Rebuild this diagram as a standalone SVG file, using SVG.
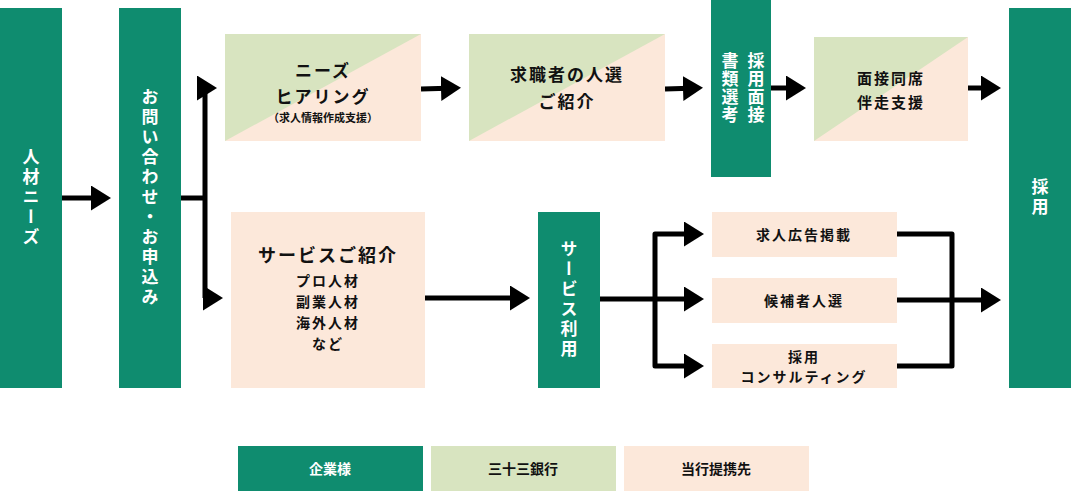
<svg xmlns="http://www.w3.org/2000/svg" width="1072" height="492" viewBox="0 0 1072 492">
<style>
.dg{fill:#0f8c6f}.lg{fill:#d8e4c0}.pc{fill:#fce8da}
text{font-family:"Noto Sans CJK JP","Noto Sans",sans-serif;font-weight:bold;text-anchor:middle}
.w{fill:#fff;font-size:17px;letter-spacing:3px}
.v{writing-mode:vertical-rl;dominant-baseline:central}
.b{fill:#111;font-size:17px;letter-spacing:2px}
.s{fill:#111;font-size:14px;letter-spacing:2px}
.xs{fill:#111;font-size:11px}
.ln{fill:none;stroke:#000;stroke-width:5;stroke-linejoin:round}
</style>
<defs>
<marker id="ah" markerWidth="5" markerHeight="5" refX="3" refY="2.5" orient="auto" markerUnits="strokeWidth"><path d="M0,0 L4,2.5 L0,5Z" fill="#000"/></marker>
</defs>
<g id="connectors">
<path class="ln" d="M62,198 H106" marker-end="url(#ah)"/>
<path class="ln" d="M181,198 H205"/>
<path class="ln" d="M205,298 V88 H212" marker-end="url(#ah)"/>
<path class="ln" d="M205,298 H218" marker-end="url(#ah)"/>
<path class="ln" d="M421,89 L456,88" marker-end="url(#ah)"/>
<path class="ln" d="M665,89 L698,88" marker-end="url(#ah)"/>
<path class="ln" d="M771,88 H801" marker-end="url(#ah)"/>
<path class="ln" d="M968,88 H996" marker-end="url(#ah)"/>
<path class="ln" d="M425,298 H525" marker-end="url(#ah)"/>
<path class="ln" d="M600,299 H699" marker-end="url(#ah)"/>
<path class="ln" d="M655,299 V234 H699" marker-end="url(#ah)"/>
<path class="ln" d="M655,299 V366 H699" marker-end="url(#ah)"/>
<path class="ln" d="M897,234 H952 V366 H897"/>
<path class="ln" d="M897,300 H996" marker-end="url(#ah)"/>
</g>
<g id="n-needs"><rect class="dg" x="0" y="8" width="62" height="380"/><text class="w v" x="31" y="198">人材ニーズ</text></g>
<g id="n-inquiry"><rect class="dg" x="119" y="8" width="62" height="380"/><text class="w v" x="150" y="198">お問い合わせ・お申込み</text></g>
<g id="n-hearing"><rect class="pc" x="225" y="34" width="196" height="107"/><path class="lg" d="M225,34 H421 L225,141Z"/>
<text class="b" x="323" y="77">ニーズ</text><text class="b" x="323" y="103">ヒアリング</text><text class="xs" x="323" y="122">（求人情報作成支援）</text></g>
<g id="n-intro"><rect class="pc" x="469" y="34" width="196" height="107"/><path class="lg" d="M469,34 H665 L469,141Z"/>
<text class="b" x="567" y="81">求職者の人選</text><text class="b" x="567" y="108">ご紹介</text></g>
<g id="n-select"><rect class="dg" x="711" y="0" width="60" height="177"/><text class="w v" x="756" y="88" style="letter-spacing:1px">採用面接</text><text class="w v" x="730" y="88" style="letter-spacing:1px">書類選考</text></g>
<g id="n-accomp"><rect class="pc" x="814" y="37" width="154" height="104"/><path class="lg" d="M814,37 H968 L814,141Z"/>
<text class="s" x="891" y="84" style="font-size:15px">面接同席</text><text class="s" x="891" y="108" style="font-size:15px">伴走支援</text></g>
<g id="n-hire"><rect class="dg" x="1009" y="8" width="62" height="380"/><text class="w v" x="1040" y="198">採用</text></g>
<g id="n-service"><rect class="pc" x="231" y="212" width="194" height="176"/>
<text class="b" x="328" y="262" style="font-size:18px">サービスご紹介</text>
<text class="s" x="328" y="286">プロ人材</text><text class="s" x="328" y="307">副業人材</text><text class="s" x="328" y="328">海外人材</text><text class="s" x="328" y="349">など</text></g>
<g id="n-use"><rect class="dg" x="538" y="212" width="62" height="176"/><text class="w v" x="569" y="300">サービス利用</text></g>
<g id="n-ad"><rect class="pc" x="712" y="212" width="185" height="45"/><text class="s" x="804" y="240">求人広告掲載</text></g>
<g id="n-cand"><rect class="pc" x="712" y="278" width="185" height="45"/><text class="s" x="804" y="306">候補者人選</text></g>
<g id="n-consult"><rect class="pc" x="712" y="344" width="185" height="44"/><text class="s" x="804" y="362">採用</text><text class="s" x="804" y="382">コンサルティング</text></g>
<g id="legend">
<rect class="dg" x="238" y="446" width="185" height="45"/><text x="330" y="474" style="fill:#fff;font-size:14px">企業様</text>
<rect class="lg" x="431" y="446" width="185" height="45"/><text class="s" x="523" y="474" style="letter-spacing:0">三十三銀行</text>
<rect class="pc" x="624" y="446" width="185" height="45"/><text class="s" x="716" y="474" style="letter-spacing:0">当行提携先</text>
</g>
</svg>
